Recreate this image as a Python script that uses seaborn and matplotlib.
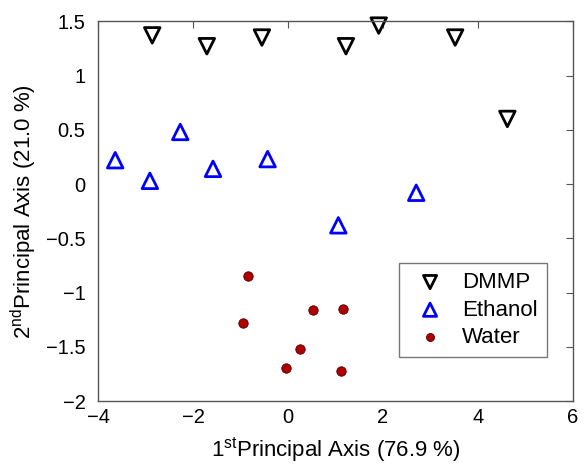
import numpy as np
import pandas as pd
import matplotlib
matplotlib.use("Agg")
import matplotlib.pyplot as plt
import seaborn as sns

# Data
dmmp_x = [-2.86, -1.71, -0.55, 1.22, 1.91, 3.52, 4.62]
dmmp_y = [1.37, 1.27, 1.35, 1.27, 1.46, 1.35, 0.60]
eth_x = [-3.64, -2.91, -2.27, -1.58, -0.43, 1.06, 2.70]
eth_y = [0.22, 0.03, 0.48, 0.14, 0.23, -0.38, -0.08]
wat_x = [-0.84, -0.95, 0.53, 1.16, 0.25, -0.04, 1.12]
wat_y = [-0.85, -1.28, -1.16, -1.15, -1.52, -1.69, -1.72]
x_ticks = [-4, -2, 0, 2, 4, 6]
y_ticks = [-2, -1.5, -1, -0.5, 0, 0.5, 1, 1.5]
y_ticklabels = ["\u22122", "\u22121.5", "\u22121", "\u22120.5", "0", "0.5", "1", "1.5"]
x_ticklabels = ["\u22124", "\u22122", "0", "2", "4", "6"]

df = pd.DataFrame({
    "x": dmmp_x + eth_x + wat_x,
    "y": dmmp_y + eth_y + wat_y,
    "group": ["DMMP"] * len(dmmp_x) + ["Ethanol"] * len(eth_x) + ["Water"] * len(wat_x),
})

sns.set_style("white")
plt.rcParams["font.family"] = ["Liberation Sans", "DejaVu Sans"]
plt.rcParams["mathtext.fontset"] = "custom"
plt.rcParams["mathtext.rm"] = "Liberation Sans"
plt.rcParams["mathtext.it"] = "Liberation Sans"
plt.rcParams["mathtext.default"] = "regular"
plt.rcParams["text.color"] = "black"
plt.rcParams["axes.labelcolor"] = "black"
plt.rcParams["xtick.labelcolor"] = "black"
plt.rcParams["ytick.labelcolor"] = "black"

fig = plt.figure(figsize=(5.84, 4.72), dpi=100)
ax = fig.add_axes([0.168, 0.150, 0.813, 0.805])

styles = {
    "DMMP": dict(marker="v", color="black", fill=False, s=125),
    "Ethanol": dict(marker="^", color="#0000ff", fill=False, s=125),
    "Water": dict(marker="o", color="#b00000", fill=True, s=46),
}
for g, st in styles.items():
    sub = df[df["group"] == g]
    sns.scatterplot(data=sub, x="x", y="y", marker=st["marker"], s=st["s"],
                    color=st["color"], ax=ax, label=g, legend=False)
    coll = ax.collections[-1]
    coll.set_clip_on(False)
    if st["fill"]:
        coll.set_facecolor(st["color"])
        coll.set_edgecolor("#4a0000")
        coll.set_linewidth(0.6)
    else:
        coll.set_facecolor("none")
        coll.set_edgecolor(st["color"])
        coll.set_linewidth(2.0)

ax.set_xlim(-4, 6)
ax.set_ylim(-2, 1.5)
ax.set_xticks(x_ticks)
ax.set_xticklabels(x_ticklabels)
ax.set_yticks(y_ticks)
ax.set_yticklabels(y_ticklabels)
ax.tick_params(direction="in", length=5, width=0.8, color="#555555",
               labelcolor="black", top=True, right=True, labelsize=14.5)
ax.tick_params(axis="x", pad=5)
ax.tick_params(axis="y", pad=9)
for sp in ax.spines.values():
    sp.set_visible(True)
    sp.set_color("#555555")
    sp.set_linewidth(1.0)

ax.set_xlabel(r"1$^{st}$Principal Axis (76.9 %)", fontsize=16, labelpad=6, color="black")
ax.set_ylabel(r"2$^{nd}$Principal Axis (21.0 %)", fontsize=16, labelpad=5, color="black")

leg = ax.legend(loc="lower right", bbox_to_anchor=(0.945, 0.116), fontsize=16,
                frameon=True, fancybox=False, edgecolor="#555555",
                handletextpad=0.45, borderpad=0.4, labelspacing=0.3,
                borderaxespad=0, scatterpoints=1, markerscale=0.85)
leg.get_frame().set_linewidth(1.0)
for t in leg.get_texts():
    t.set_color("black")

fig.savefig("out.png", dpi=100)
